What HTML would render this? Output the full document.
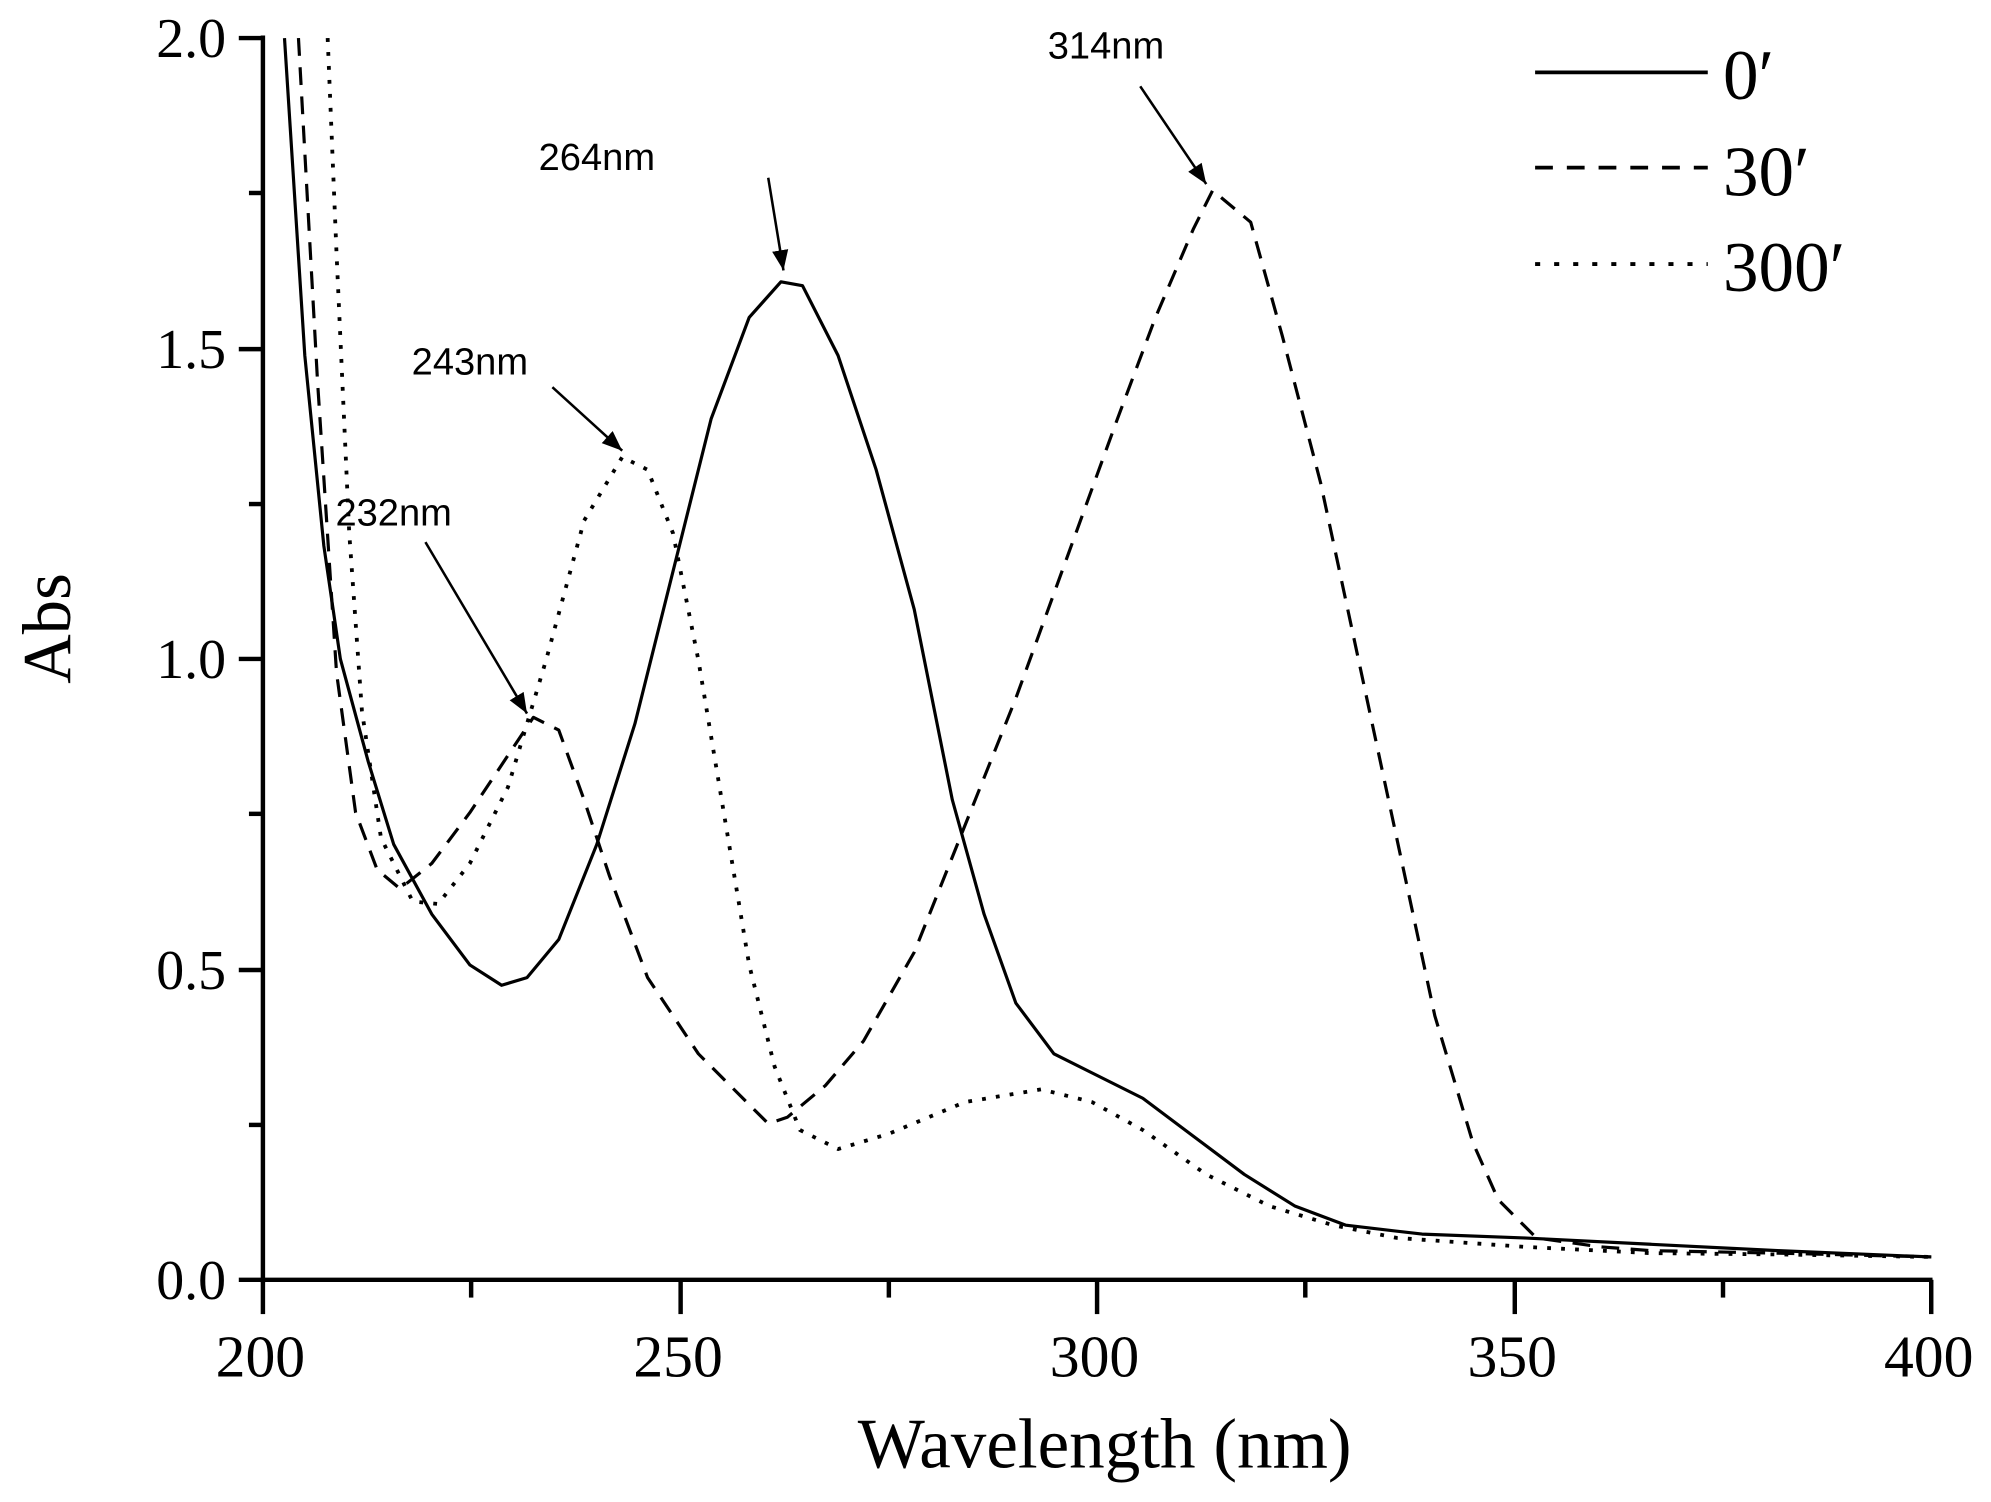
<!DOCTYPE html>
<html><head><meta charset="utf-8"><style>html,body{margin:0;padding:0;background:#fff}svg{display:block}</style></head>
<body>
<svg width="1991" height="1502" viewBox="0 0 1568 1183" xmlns="http://www.w3.org/2000/svg">
<defs><marker id="ah" viewBox="0 0 10 10" refX="10" refY="5" markerWidth="8" markerHeight="8" orient="auto"><path d="M0,1 L10,5 L0,9 z" fill="#000"/></marker></defs>
<g stroke="#000" stroke-width="3.5" fill="none">
<line x1="207" y1="28" x2="207" y2="1010"/>
<line x1="188" y1="1008" x2="1522" y2="1008"/>
<line x1="188" y1="30" x2="207" y2="30"/><line x1="188" y1="275" x2="207" y2="275"/><line x1="188" y1="519" x2="207" y2="519"/><line x1="188" y1="764" x2="207" y2="764"/>
<line x1="196" y1="152" x2="207" y2="152"/><line x1="196" y1="397" x2="207" y2="397"/><line x1="196" y1="641" x2="207" y2="641"/><line x1="196" y1="886" x2="207" y2="886"/>
<line x1="207" y1="1008" x2="207" y2="1035"/><line x1="536" y1="1008" x2="536" y2="1035"/><line x1="864" y1="1008" x2="864" y2="1035"/><line x1="1193" y1="1008" x2="1193" y2="1035"/><line x1="1521" y1="1008" x2="1521" y2="1035"/>
<line x1="371" y1="1008" x2="371" y2="1022"/><line x1="700" y1="1008" x2="700" y2="1022"/><line x1="1028" y1="1008" x2="1028" y2="1022"/><line x1="1357" y1="1008" x2="1357" y2="1022"/>
</g>
<g font-family="Liberation Serif, serif" font-size="44" text-anchor="end">
<text x="178" y="45">2.0</text><text x="178" y="290">1.5</text><text x="178" y="534">1.0</text><text x="178" y="779">0.5</text><text x="178" y="1023">0.0</text>
</g>
<g font-family="Liberation Serif, serif" font-size="47" text-anchor="middle">
<text x="205" y="1084">200</text><text x="534" y="1084">250</text><text x="862" y="1084">300</text><text x="1191" y="1084">350</text><text x="1519" y="1084">400</text>
<text x="870" y="1156" font-size="56">Wavelength (nm)</text>
<text transform="translate(55,495) rotate(-90)" font-size="54">Abs</text>
</g>
<g fill="none" stroke="#000" stroke-width="2.5" stroke-linejoin="round">
<polyline points="224,30 240,280 255,430 268,519 290,600 310,665 340,720 370,760 395,776 415,770 440,740 470,665 500,570 530,450 560,330 590,250 615,222 632,225 660,280 690,370 720,480 750,630 775,720 800,790 830,830 860,845 900,865 940,895 980,925 1020,950 1060,965 1120,972 1200,975 1300,980 1400,985 1521,990"/>
<polyline stroke-dasharray="14,9" points="235,30 250,300 265,530 280,640 297,685 315,700 340,680 370,640 400,595 420,565 440,575 460,630 480,690 510,770 550,830 590,870 605,885 620,880 650,855 680,820 720,750 760,650 800,550 840,440 880,330 910,250 940,180 955,150 985,175 1010,265 1040,380 1070,520 1100,660 1130,800 1160,900 1180,945 1210,975 1260,982 1300,985 1400,987 1521,990"/>
<polyline stroke-dasharray="3,8" stroke-width="3" points="258,30 265,200 275,420 285,560 300,660 325,710 345,712 370,680 400,620 430,520 460,410 490,360 510,370 530,420 550,520 570,640 590,760 610,840 630,890 660,905 700,893 760,868 820,858 860,868 900,890 950,925 1000,950 1050,965 1100,975 1200,982 1300,987 1400,988 1521,990"/>
</g>
<g stroke="#000" stroke-width="2" marker-end="url(#ah)">
<line x1="898" y1="68" x2="950" y2="145"/>
<line x1="605" y1="140" x2="617" y2="213"/>
<line x1="435" y1="305" x2="490" y2="355"/>
<line x1="335" y1="427" x2="415" y2="562"/>
</g>
<g font-family="Liberation Sans, sans-serif" font-size="30" text-anchor="middle">
<text x="871" y="46">314nm</text><text x="470" y="134">264nm</text><text x="370" y="295">243nm</text><text x="310" y="414">232nm</text>
</g>
<g stroke="#000" stroke-width="3">
<line x1="1209" y1="57" x2="1345" y2="57"/>
<line x1="1209" y1="132" x2="1345" y2="132" stroke-dasharray="14,11"/>
<line x1="1209" y1="208" x2="1345" y2="208" stroke-dasharray="4,11"/>
</g>
<g font-family="Liberation Serif, serif" font-size="56">
<text x="1357" y="78">0′</text><text x="1357" y="154">30′</text><text x="1357" y="229">300′</text>
</g>
</svg>
</body></html>
